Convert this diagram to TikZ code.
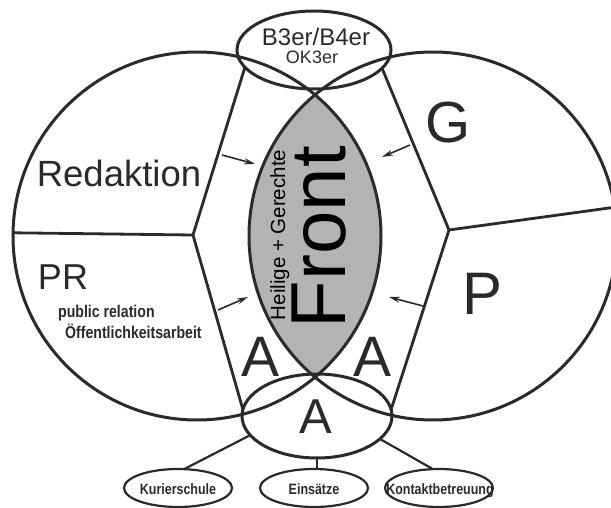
\documentclass[tikz,border=0pt]{standalone}
\usepackage{fontspec}
\setmainfont{Liberation Sans}
\newfontfamily\narrowfont[FakeStretch=0.83]{Liberation Sans}
\usetikzlibrary{arrows.meta,shapes.geometric}
\definecolor{ink}{RGB}{42,42,42}
\definecolor{lensgray}{RGB}{180,178,178}
\begin{document}
\begin{tikzpicture}[x=1pt,y=-1pt,
  outl/.style={draw=ink,line width=3pt},
  bigc/.style={outl,circle,minimum size=368pt,inner sep=0pt,outer sep=0pt},
  ell/.style={outl,ellipse,inner sep=0pt,outer sep=0pt},
  smallell/.style={draw=ink,line width=2.2pt,ellipse,minimum width=108pt,minimum height=38pt,inner sep=0pt,outer sep=0pt},
  lbl/.style={text=ink,inner sep=0pt,anchor=base},
  smalltxt/.style={lbl,font=\narrowfont\bfseries\fontsize{15}{15}\selectfont},
  arr/.style={draw=ink,line width=1.6pt,-{Stealth[length=11pt,width=6pt]}},
  conn/.style={draw=ink,line width=2.8pt},
  thin/.style={draw=ink,line width=2.2pt},
]
\useasboundingbox (0,0) rectangle (611,508);
\begin{scope}
  \clip (197,236) circle [radius=184pt];
  \fill[lensgray] (433,236) circle [radius=184pt];
\end{scope}
\node[bigc] (L) at (197,236) {};
\node[bigc] (R) at (433,236) {};
\node[ell,minimum width=154pt,minimum height=78pt] (T) at (314,50) {};
\node[ell,minimum width=150pt,minimum height=84pt] (B) at (317,416) {};
\coordinate (lk) at (193,235);
\coordinate (rk) at (449,230);
\draw[conn] (T.194) -- (lk) -- (B.175);
\draw[conn] (lk) -- (L.179);
\draw[conn] (T.345) -- (rk) -- (B.5);
\draw[conn] (rk) -- (R.9);
% labels
\node[lbl,font=\fontsize{24}{24}\selectfont] (t1) at (316,46) {B3er/B4er};
\node[lbl,font=\fontsize{18}{18}\selectfont] (t2) at (312,64) {OK3er};
\node[lbl,font=\fontsize{36.5}{36.5}\selectfont] (red) at (119,186) {Redaktion};
\node[lbl,font=\fontsize{36}{36}\selectfont] (pr) at (63,289) {PR};
\node[lbl,anchor=base west,font=\narrowfont\bfseries\fontsize{17}{17}\selectfont] (pub) at (58,317) {public relation};
\node[lbl,anchor=base west,font=\narrowfont\bfseries\fontsize{17}{17}\selectfont] (oef) at (65,338) {Öffentlichkeitsarbeit};
\node[lbl,font=\fontsize{58}{58}\selectfont] (g) at (448,143) {G};
\node[lbl,font=\fontsize{60}{60}\selectfont] (p) at (483,314) {P};
\node[lbl,font=\fontsize{57}{57}\selectfont] (a1) at (261,376) {A};
\node[lbl,font=\fontsize{57}{57}\selectfont] (a2) at (373,376) {A};
\node[lbl,font=\fontsize{49}{49}\selectfont] (a3) at (316,433) {A};
\node[lbl,rotate=90,text=black,font=\fontsize{78}{78}\selectfont] (front) at (345,237) {Front};
\node[lbl,rotate=90,text=black,font=\fontsize{20.5}{20.5}\selectfont] (hg) at (285,235) {Heilige + Gerechte};
% arrows
\coordinate (a1s) at (222,155); \coordinate (a1e) at (255,164);
\coordinate (a2s) at (410,145); \coordinate (a2e) at (382,157);
\coordinate (a3s) at (218,310); \coordinate (a3e) at (248,297);
\coordinate (a4s) at (423,306); \coordinate (a4e) at (389,297);
\draw[arr] (a1s) -- (a1e);
\draw[arr] (a2s) -- (a2e);
\draw[arr] (a3s) -- (a3e);
\draw[arr] (a4s) -- (a4e);
% bottom sub-ellipses
\node[smallell] (kur) at (178,488) {};
\node[smallell] (ein) at (314,488) {};
\node[smallell] (kon) at (439,488) {};
\node[smalltxt] (kurt) at (178,494) {Kurierschule};
\node[smalltxt] (eint) at (314,494) {Einsätze};
\node[smalltxt] (kont) at (440,494) {Kontaktbetreuung};
\draw[thin] (B.196) -- (kur.72);
\draw[thin] (B.south) -- (B.south |- ein.north);
\draw[thin] (B.340) -- (kon.108);
\end{tikzpicture}
\end{document}
